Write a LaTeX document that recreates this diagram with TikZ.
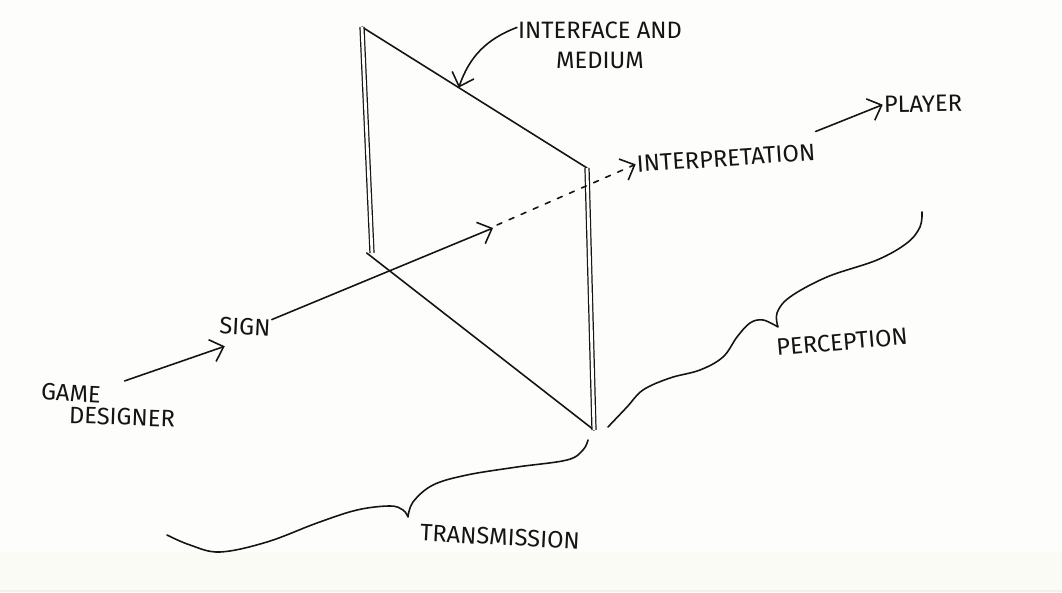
\documentclass[tikz,border=0pt]{standalone}
\usepackage{fontspec}
\setmainfont{Fira Sans}
\usepackage{xcolor}
\usetikzlibrary{positioning,arrows.meta,calc}
\definecolor{paper}{RGB}{253,253,251}
\definecolor{paperedge}{RGB}{251,251,246}
\definecolor{ink}{RGB}{20,20,20}
\tikzset{
    sketchlabel/.style={font=\fontsize{13.5}{17}\selectfont, text=ink, inner sep=0.5pt, align=center},
    sketchline/.style={draw=ink, line width=0.9pt, line cap=round},
    sketcharrow/.style={sketchline, -{Straight Barb[length=2.4mm,width=4.6mm]}},
    sketchdash/.style={sketcharrow, dash pattern=on 3pt off 4.5pt},
    sketchpost/.style={draw=ink, line width=0.7pt, double=paper, double distance=1.6pt},
    sketchbrace/.style={sketchline, line join=round}
}

\begin{document}
\begin{tikzpicture}[x=0.02cm, y=0.02cm]
    \fill[paper] (0,0) rectangle (1062,592);
    \useasboundingbox (0,0) rectangle (1062,592);
    \fill[paperedge] (0,2) rectangle (1062,40);
    \fill[gray!12] (0,0) rectangle (1062,2);

    % panel corners
    \coordinate (tl) at (362,565);
    \coordinate (tr) at (587,424);
    \coordinate (bl) at (372,339);
    \coordinate (br) at (594,162);
    \draw[sketchline] (tl) -- (tr);
    \draw[sketchline] ([xshift=-3]bl) -- (br);
    \draw[sketchpost] (tl) -- (bl);
    \draw[sketchpost] (tr) -- (br);

    % labels
    \node[sketchlabel, rotate=-3] (game) at (71,199) {GAME};
    \node[sketchlabel, rotate=-2] (designer) at (122,175) {DESIGNER};
    \node[sketchlabel, rotate=-3] (sign) at (245,265) {SIGN};
    \node[sketchlabel, rotate=4] (interp) at (726,434) {INTERPRETATION};
    \node[sketchlabel, rotate=1] (player) at (923,488) {PLAYER};
    \node[sketchlabel] (iface) at (600,547) {INTERFACE AND\\MEDIUM};
    \node[sketchlabel, rotate=5] (percep) at (842,250) {PERCEPTION};
    \node[sketchlabel, rotate=-3] (trans) at (500,55) {TRANSMISSION};

    \coordinate (mid) at (493,364);
    \coordinate (pointer) at ($(tl)!0.43!(tr)$);

    % arrows
    \draw[sketcharrow] ([shift={(22,4)}]game.north east) -- ([shift={(7,-11)}]sign.south west);
    \draw[sketcharrow] ([yshift=5]sign.east) -- (mid);
    \draw[sketchdash] ([shift={(4,3)}]mid) -- (interp.west);
    \draw[sketcharrow] ([yshift=6]interp.north east) -- (player.west);
    \draw[sketcharrow] ([yshift=10]iface.west) to[bend right=25] (pointer);

    % braces
    \draw[sketchbrace] plot[smooth, tension=0.6] coordinates {
        (608,165) (627,185) (643,202) (670,214) (700,222) (723,235)
        (737,255) (750,269) (763,272) (778,265)}
        -- plot[smooth, tension=0.6] coordinates {
        (778,265) (777,279) (790,295) (827,315) (877,332) (907,349)
        (920,365) (922,380)};
    \draw[sketchbrace] plot[smooth, tension=0.6] coordinates {
        (167,57) (190,47) (220,40) (267,50) (317,69) (357,82)
        (390,86) (403,82) (408,75)}
        -- plot[smooth, tension=0.6] coordinates {
        (408,75) (413,90) (433,107) (467,117) (517,125) (567,132)
        (583,142) (588,152)};
\end{tikzpicture}
\end{document}
